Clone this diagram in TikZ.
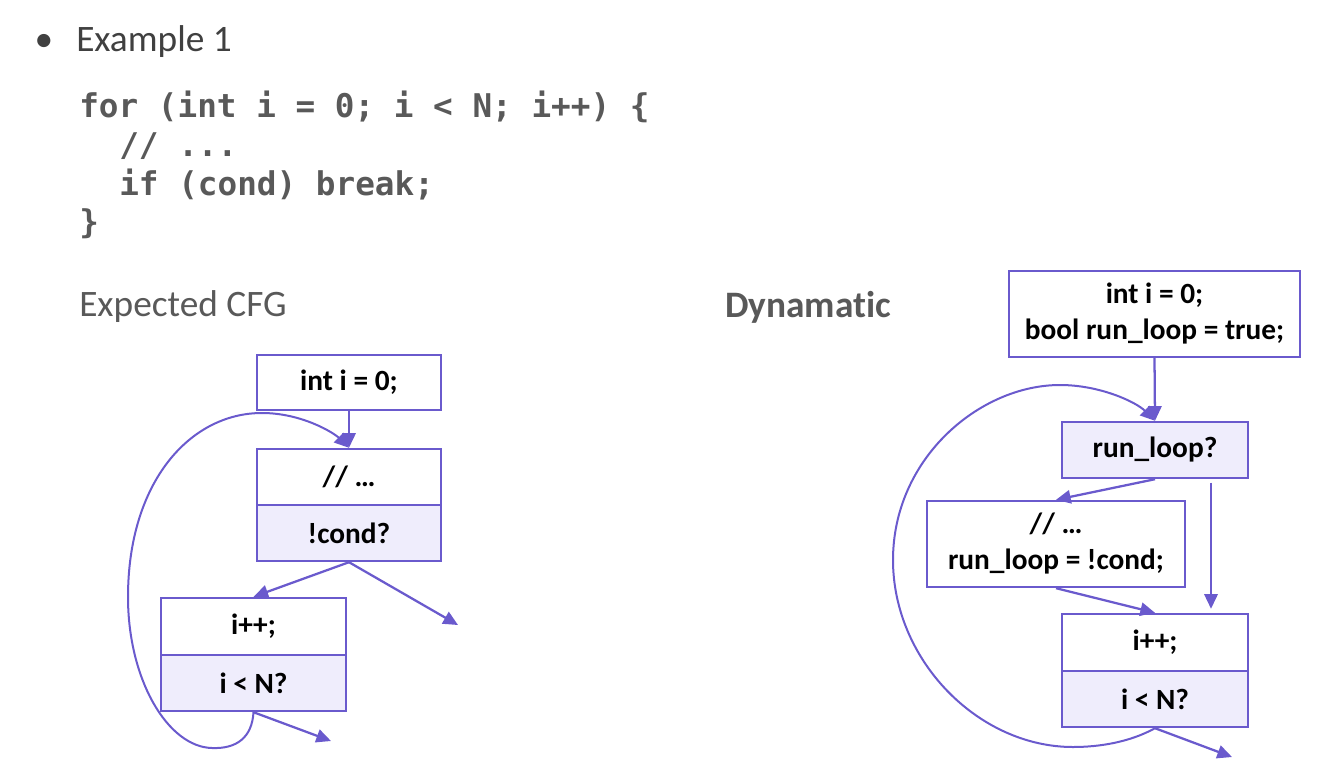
\documentclass[tikz,border=0pt]{standalone}
\usepackage{fontspec}
\setmainfont{Carlito}[RawFeature=-liga]
\newfontfamily\codefont{DejaVu Sans Mono}
\usetikzlibrary{arrows.meta,calc}
\definecolor{edge}{HTML}{6A5ACD}
\definecolor{lav}{HTML}{EFEDFC}
\definecolor{txtgray}{HTML}{595959}
\definecolor{txtdark}{HTML}{404040}
\begin{document}
\begin{tikzpicture}[x=0.75pt,y=-0.75pt,
  box/.style={draw=edge,line width=1.8pt,inner sep=0pt,align=center,
    font=\fontsize{22pt}{27pt}\selectfont\bfseries,text=black},
  fbox/.style={box,fill=lav},
  conn/.style={draw=edge,line width=1.7pt,-{Triangle[length=11pt,width=10pt]}},
  loopc/.style={draw=edge,line width=1.5pt,-{Triangle[length=11pt,width=10pt]}},
  codeline/.style={anchor=base west,inner sep=0pt,text=txtgray,
    font=\fontsize{24.5pt}{29pt}\codefont\bfseries},
  heading/.style={anchor=base west,inner sep=0pt,font=\fontsize{28pt}{34pt}\selectfont}
]
\useasboundingbox (0,0) rectangle (1333,767);

% --- texts
\node[heading,text=txtdark,anchor=base] (bul) at (44,52) {•};
\node[heading,text=txtdark] (ex) at (76,52) {Example 1};
\node[codeline] (c1) at (79,117) {for (int i = 0; i < N; i++) \{};
\node[codeline] (c2) at (119,156) {// ...};
\node[codeline] (c3) at (119,195) {if (cond) break;};
\node[codeline] (c4) at (79,233) {\}};
\node[heading,text=txtgray] (exp) at (79,316) {Expected CFG};
\node[heading,text=txtgray,font=\fontsize{28pt}{34pt}\selectfont\bfseries] (dyn) at (725,317) {Dynamatic};

% --- left CFG
\node[box,minimum width={184*0.75pt},minimum height={55*0.75pt}] (A) at (349,382.5) {int i = 0;};
\node[fbox,minimum width={184*0.75pt},minimum height={56*0.75pt}] (B2) at (349,533) {!cond?};
\node[box,minimum width={184*0.75pt},minimum height={56*0.75pt}] (B1) at (349,477) {// …};
\node[fbox,minimum width={185*0.75pt},minimum height={56*0.75pt}] (C2) at (253.5,683) {i < N?};
\node[box,minimum width={185*0.75pt},minimum height={57*0.75pt}] (C1) at (253.5,626.5) {i++;};
\coordinate (xl1) at (458,625);
\coordinate (xl2) at (331,741);

\draw[conn] (A.south) -- (B1.north);
\draw[conn] (B2.south) -- (C1.north);
\draw[conn] (B2.south) -- (xl1);
\draw[conn] (C2.south) -- (xl2);
\draw[loopc] (C2.south) .. controls (252,738) and (236,749) .. (212,748)
  .. controls (168,747) and (128,680) .. (128,597)
  .. controls (128,482) and (190,413) .. (262,413)
  .. controls (302,413) and (334,433) .. (B1.north);

% --- right CFG
\node[box,minimum width={291*0.75pt},minimum height={86*0.75pt}] (D) at (1154.5,314) {int i = 0;\\bool run\_loop = true;};
\node[fbox,minimum width={186*0.75pt},minimum height={56*0.75pt}] (E) at (1155,450) {run\_loop?};
\node[box,minimum width={258*0.75pt},minimum height={86*0.75pt}] (F) at (1056,544) {// …\\run\_loop = !cond;};
\node[fbox,minimum width={186*0.75pt},minimum height={56*0.75pt}] (G2) at (1155,699) {i < N?};
\node[box,minimum width={186*0.75pt},minimum height={57*0.75pt}] (G1) at (1155,642.5) {i++;};
\coordinate (rx) at (1211,0);
\coordinate (xr) at (1232,757);

\draw[conn] (D.south) -- (E.north);
\draw[conn] (E.south) -- (F.north);
\draw[conn] ([yshift=-2.5pt]E.south -| rx) -- ([yshift=3pt]G1.north -| rx);
\draw[conn] (F.south) -- (G1.north);
\draw[conn] (G2.south) -- (xr);
\draw[loopc] (G2.south) .. controls (1130,742) and (1100,747) .. (1073,747)
  .. controls (978,747) and (893,660) .. (893,560)
  .. controls (893,458) and (980,385) .. (1060,385)
  .. controls (1100,385) and (1136,402) .. (E.north);
\end{tikzpicture}
\end{document}
